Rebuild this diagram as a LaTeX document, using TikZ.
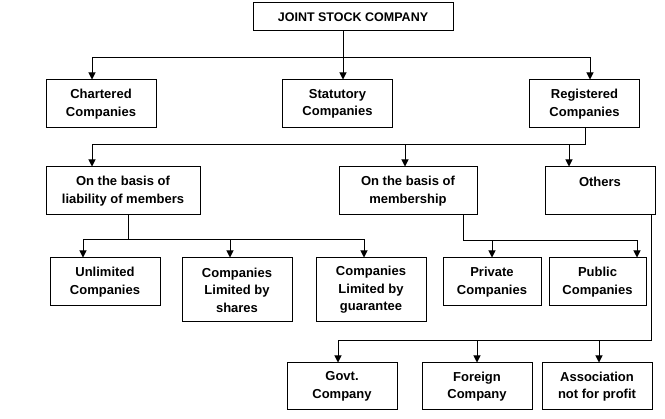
\documentclass[tikz,border=0pt]{standalone}
\usepackage{fontspec}
\setmainfont{Liberation Sans}
\usetikzlibrary{arrows.meta}

\begin{document}
\begin{tikzpicture}[x=1pt,y=-1pt,line width=1pt,>={Triangle[width=7pt,length=7pt]},
 box/.style={draw,inner sep=0pt,align=center,minimum width=110pt,minimum height=48pt,
  font=\bfseries\fontsize{13}{17.5}\selectfont}]
 \useasboundingbox (0,0) rectangle (665,419);
 \node[box,minimum width=200pt,minimum height=28pt,font=\bfseries\fontsize{12.5}{15}\selectfont] (jsc) at (353,17) {JOINT STOCK COMPANY};
 \node[box] (chart) at (101,104) {Chartered\\Companies};
 \node[box] (stat) at (337.5,104) {Statutory\\Companies};
 \node[box] (reg) at (584.5,104) {Registered\\Companies};
 \node[box,minimum width=154pt] (liab) at (123,191) {On the basis of\\liability of members};
 \node[box,minimum width=138pt] (memb) at (408,191) {On the basis of\\membership};
 \node[box] (others) at (600,191) {Others\\\phantom{Others}};
 \node[box] (unl) at (105,282) {Unlimited\\Companies};
 \node[box,minimum height=64pt] (shares) at (237,290) {Companies\\Limited by\\shares};
 \node[box,minimum height=64pt] (guar) at (371,290) {Companies\\Limited by\\guarantee};
 \node[box,minimum width=98pt] (priv) at (492,282) {Private\\Companies};
 \node[box,minimum width=97pt] (pub) at (597.5,282) {Public\\Companies};
 \node[box,minimum height=47pt] (govt) at (342,386.5) {Govt.\\Company};
 \node[box,minimum height=47pt] (foreign) at (477,386.5) {Foreign\\Company};
 \node[box,minimum height=47pt] (assoc) at (597,386.5) {Association\\not for profit};

 % branch points
 \coordinate (b0) at (343,58);
 \coordinate (b1) at (585,145);
 \coordinate (b2) at (128,240);
 \coordinate (b3) at (463,241);
 \coordinate (b4) at (651,341);

 \draw (jsc.south -| b0) -- (b0);
 \foreach \to/\dx in {chart/-9,stat/5.5,reg/5.5}
  \draw[->] (b0) -| ([xshift=\dx pt]\to.north);
 \draw (reg.south -| b1) -- (b1);
 \foreach \to/\dx in {liab/-31,memb/-3,others/-31}
  \draw[->] (b1) -| ([xshift=\dx pt]\to.north);
 \draw (liab.south -| b2) -- (b2);
 \foreach \to/\dx in {unl/-22,shares/-7,guar/-7}
  \draw[->] (b2) -| ([xshift=\dx pt]\to.north);
 \draw (memb.south -| b3) -- (b3);
 \foreach \to/\dx in {priv/0,pub/39.5}
  \draw[->] (b3) -| ([xshift=\dx pt]\to.north);
 \draw (others.south -| b4) -- (b4);
 \foreach \to/\dx in {govt/-4,foreign/0,assoc/2}
  \draw[->] (b4) -| ([xshift=\dx pt]\to.north);
\end{tikzpicture}
\end{document}
